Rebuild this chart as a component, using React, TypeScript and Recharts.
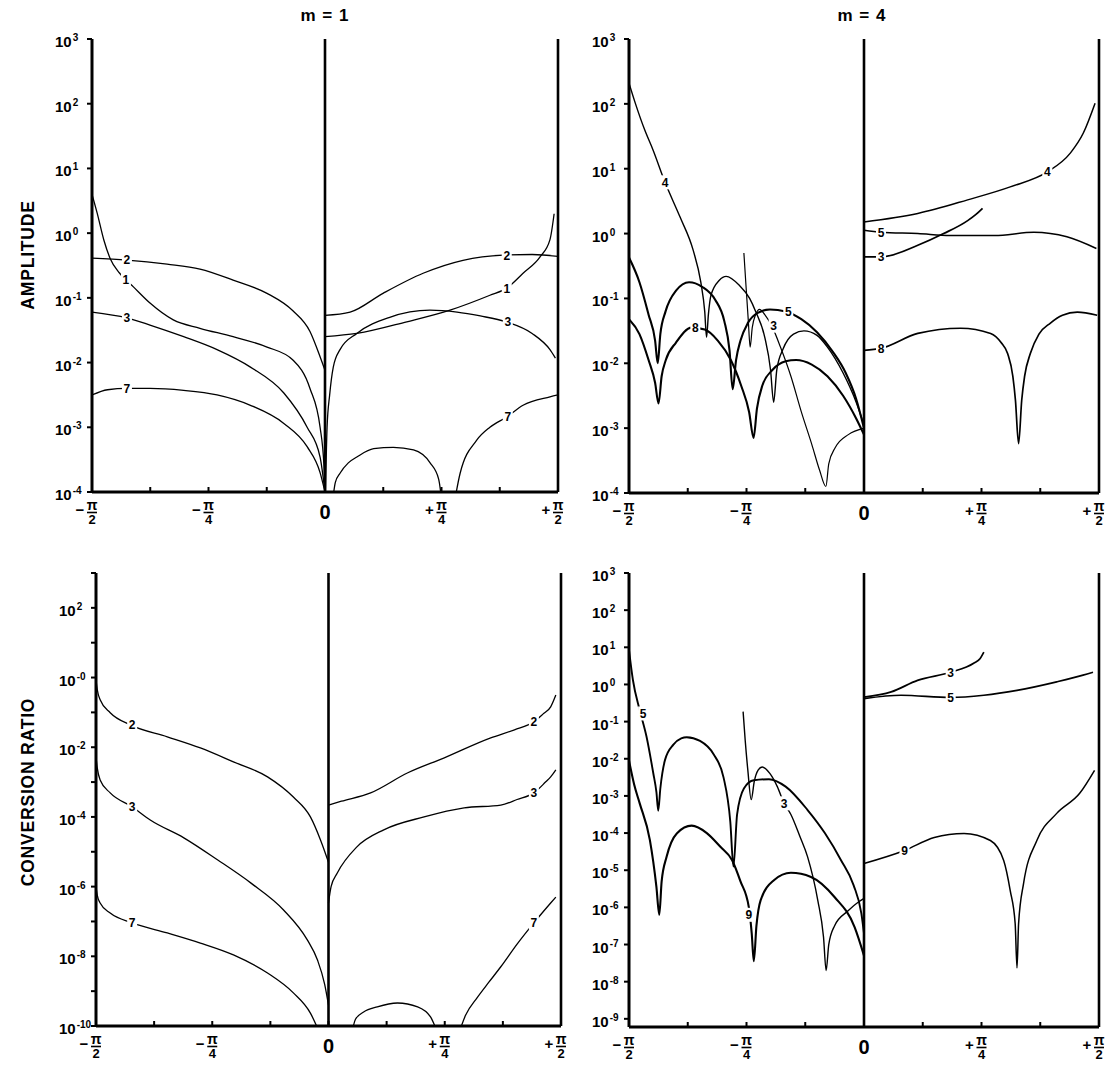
import React from 'react';
import { LineChart, Line, XAxis, YAxis, ReferenceLine, ReferenceDot } from 'recharts';

type Pt = [number, number];
type Tag = [number, number, string];

// x = angle of incidence in degrees (-90 = -pi/2 ... +90 = +pi/2)
// y = log10 of the plotted quantity (axes are logarithmic)
const X_TICKS = [-90, -67.5, -45, -22.5, 0, 22.5, 45, 67.5, 90];
const AMP_TICKS = [3, 2, 1, 0, -1, -2, -3, -4];
const CONV_M1_TICKS = [3, 2, 1, 0, -1, -2, -3, -4, -5, -6, -7, -8, -9, -10];
const CONV_M1_LABELS = [2, 0, -2, -4, -6, -8, -10];
const CONV_M4_TICKS = [3, 2, 1, 0, -1, -2, -3, -4, -5, -6, -7, -8, -9];

// ---------- AMPLITUDE, m = 1 ----------
const AMP_M1_O1_NEG: Pt[] = [[-90, 0.6], [-88, 0.31], [-85.4, -0.11], [-83, -0.39], [-79.3, -0.62], [-74, -0.83], [-67.6, -1.08], [-58.6, -1.34], [-48.3, -1.47], [-35.5, -1.6], [-22.4, -1.76], [-12.4, -1.96], [-5.8, -2.4], [-1.9, -3.0], [-0.4, -3.6], [0, -4]];
const AMP_M1_O2_NEG: Pt[] = [[-90, -0.385], [-76.5, -0.416], [-61, -0.48], [-48.3, -0.555], [-35.5, -0.725], [-22.4, -0.93], [-12.4, -1.2], [-5.8, -1.52], [-1.9, -1.91], [0, -2.12]];
const AMP_M1_O3_NEG: Pt[] = [[-90, -1.22], [-76.5, -1.31], [-67.6, -1.42], [-54.6, -1.6], [-41.7, -1.8], [-28.8, -2.07], [-15.9, -2.47], [-6.9, -3.0], [-1.9, -3.46], [0, -4]];
const AMP_M1_O7_NEG: Pt[] = [[-90, -2.5], [-84, -2.42], [-76.5, -2.4], [-67.6, -2.4], [-54.6, -2.43], [-41.7, -2.5], [-28.8, -2.66], [-15.9, -2.94], [-6.9, -3.3], [-1.9, -3.7], [0, -4]];
const AMP_M1_O1_POS: Pt[] = [[0, -1.6], [12.3, -1.55], [31.6, -1.37], [48.3, -1.19], [63.7, -0.96], [70.2, -0.85], [76.5, -0.62], [83, -0.37], [86.9, -0.1], [88.5, 0.3]];
const AMP_M1_O2_POS: Pt[] = [[0, -1.27], [9.7, -1.22], [22.4, -0.93], [37.9, -0.62], [53.3, -0.42], [68.8, -0.34], [80, -0.33], [90, -0.36]];
const AMP_M1_O3_POS: Pt[] = [[0.2, -4], [0.8, -3.0], [1.8, -2.5], [3.2, -2.07], [5.8, -1.8], [12.3, -1.55], [25, -1.3], [40.5, -1.19], [51, -1.22], [60, -1.28], [70, -1.37], [80, -1.55], [86.9, -1.8], [89, -1.93]];
const AMP_M1_O7_POS_A: Pt[] = [[2.5, -4.3], [4, -3.85], [5.8, -3.71], [9, -3.55], [12.3, -3.46], [18.8, -3.33], [26.4, -3.31], [34.2, -3.35], [40.6, -3.55], [43.9, -3.8], [45.5, -4.3]];
const AMP_M1_O7_POS_B: Pt[] = [[49.4, -4.3], [52.2, -3.71], [58.6, -3.2], [63.7, -3.0], [70.2, -2.84], [76.5, -2.66], [86.9, -2.53], [90, -2.5]];
const AMP_M1_TAGS: Tag[] = [[-76.5, -0.41, '2'], [-76.9, -0.72, '1'], [-76.5, -1.31, '3'], [-76.5, -2.4, '7'], [70.2, -0.34, '2'], [70.2, -0.86, '1'], [70.6, -1.37, '3'], [70.6, -2.84, '7']];

// ---------- AMPLITUDE, m = 4 ----------
const AMP_M4_O4_NEG: Pt[] = [[-90, 2.32], [-87.5, 2.0], [-84, 1.6], [-80.8, 1.29], [-76.2, 0.79], [-70.4, 0.25], [-65.4, -0.26], [-62.5, -0.75], [-61, -1.2], [-60.3, -1.6], [-59.6, -1.25], [-58.6, -0.95], [-55.4, -0.72], [-52.8, -0.66], [-47.7, -0.8], [-43.8, -1.0], [-41.5, -1.2], [-38, -1.6], [-35.8, -2.1], [-34.6, -2.6], [-33.4, -2.1], [-31, -1.78], [-27, -1.55], [-23, -1.5], [-18, -1.57], [-14, -1.75], [-8, -2.15], [-3, -2.6], [0, -2.95]];
const AMP_M4_O5_NEG: Pt[] = [[-90, -0.37], [-86, -0.75], [-82.5, -1.25], [-80, -1.65], [-79, -2.0], [-78, -1.55], [-76, -1.2], [-72, -0.88], [-67, -0.75], [-62, -0.82], [-57, -1.02], [-53.5, -1.35], [-51.5, -1.8], [-50.3, -2.4], [-49, -1.95], [-47.3, -1.65], [-44.5, -1.38], [-40.5, -1.22], [-36, -1.17], [-30, -1.2], [-24, -1.32], [-18, -1.52], [-12, -1.82], [-7, -2.15], [-3, -2.55], [0, -3.0]];
const AMP_M4_O8_NEG: Pt[] = [[-90, -1.32], [-86, -1.55], [-82.5, -1.95], [-80, -2.3], [-78.7, -2.62], [-77.5, -2.2], [-75.9, -1.95], [-72, -1.68], [-66, -1.45], [-61, -1.48], [-56, -1.65], [-51, -1.95], [-47, -2.35], [-44, -2.75], [-42.3, -3.15], [-41, -2.7], [-39, -2.35], [-35, -2.1], [-30, -1.97], [-26, -1.95], [-20, -2.02], [-14, -2.2], [-8, -2.5], [-3, -2.85], [0, -3.1]];
const AMP_M4_O3_NEG: Pt[] = [[-46, -0.3], [-45.2, -0.8], [-44.3, -1.35], [-43.6, -1.75], [-42.8, -1.45], [-41.5, -1.25], [-40, -1.17], [-38, -1.25], [-35, -1.45], [-32, -1.75], [-28, -2.2], [-24, -2.75], [-20, -3.25], [-17, -3.65], [-14.6, -3.9], [-13.5, -3.55], [-11, -3.3], [-6, -3.1], [0, -3.0]];
const AMP_M4_O4_POS: Pt[] = [[0, 0.18], [20.6, 0.31], [39.7, 0.52], [56, 0.72], [70.2, 0.95], [79, 1.24], [84, 1.55], [88.5, 2.01]];
const AMP_M4_O3_POS: Pt[] = [[0, -0.36], [6.5, -0.36], [20.6, -0.18], [30.5, 0.0], [39.7, 0.2], [43, 0.3], [45.4, 0.39]];
const AMP_M4_O5_POS: Pt[] = [[0, 0.05], [6.5, 0.02], [20.6, 0.0], [33, -0.03], [50, -0.03], [65, 0.02], [77.7, -0.05], [89, -0.23]];
const AMP_M4_O8_POS: Pt[] = [[0, -1.8], [6.5, -1.77], [20.6, -1.54], [37, -1.46], [48.5, -1.54], [52.5, -1.68], [55, -1.85], [57, -2.2], [58, -2.57], [59.2, -3.24], [60.4, -2.57], [61.5, -2.2], [63.7, -1.85], [67, -1.55], [71.4, -1.38], [76, -1.26], [81.7, -1.21], [89.3, -1.26]];
const AMP_M4_TAGS: Tag[] = [[-76.2, 0.79, '4'], [-64.6, -1.45, '8'], [-34.6, -1.42, '3'], [-29, -1.2, '5'], [70.2, 0.95, '4'], [6.5, 0.02, '5'], [6.5, -0.36, '3'], [6.5, -1.77, '8']];

// ---------- CONVERSION RATIO, m = 1 ----------
const CONV_M1_O2_NEG: Pt[] = [[-90, -0.07], [-89.5, -0.35], [-88.4, -0.64], [-84.5, -1.01], [-76.7, -1.36], [-62.4, -1.7], [-49.6, -2.02], [-36.8, -2.42], [-23.6, -2.85], [-13.6, -3.43], [-7, -4.0], [-3.1, -4.66], [0, -5.3]];
const CONV_M1_O3_NEG: Pt[] = [[-90, -2.28], [-89.5, -2.6], [-88.4, -2.94], [-84.5, -3.31], [-76, -3.71], [-69, -4.09], [-56, -4.6], [-43, -5.23], [-30, -5.9], [-17.4, -6.67], [-8.2, -7.53], [-4.3, -8.1], [-1.5, -8.8], [0, -9.4]];
const CONV_M1_O7_NEG: Pt[] = [[-90, -6.0], [-89.5, -6.25], [-88.4, -6.47], [-84.5, -6.76], [-76, -7.04], [-62.4, -7.33], [-49.6, -7.62], [-36.8, -7.96], [-23.6, -8.48], [-13.6, -9.05], [-7, -9.63], [-4, -10.1]];
const CONV_M1_O2_POS: Pt[] = [[0, -3.66], [5, -3.55], [16.3, -3.31], [30.5, -2.74], [44.6, -2.31], [62.8, -1.73], [72, -1.5], [79.5, -1.27], [83, -1.05], [86, -0.84], [88, -0.5]];
const CONV_M1_O3_POS: Pt[] = [[0, -6.47], [1, -6.0], [3.4, -5.61], [11, -4.86], [21.4, -4.37], [37, -4.0], [52.5, -3.74], [66.7, -3.66], [73, -3.5], [79.5, -3.31], [84, -3.0], [86, -2.85], [88, -2.65]];
const CONV_M1_O7_POS_A: Pt[] = [[9, -10.2], [10.5, -9.8], [13.6, -9.6], [18.9, -9.45], [26.7, -9.34], [34.5, -9.45], [39.5, -9.74], [42.2, -10.2]];
const CONV_M1_O7_POS_B: Pt[] = [[50.5, -10.2], [53, -9.7], [57.7, -9.17], [62, -8.75], [66.7, -8.3], [73, -7.65], [79.5, -7.04], [86, -6.47], [88, -6.3]];
const CONV_M1_TAGS: Tag[] = [[-76, -1.36, '2'], [-76, -3.71, '3'], [-76, -7.04, '7'], [79.5, -1.27, '2'], [79.5, -3.31, '3'], [79.5, -7.04, '7']];

// ---------- CONVERSION RATIO, m = 4 ----------
const CONV_M4_O5_NEG: Pt[] = [[-90, 0.93], [-88.5, 0.12], [-85.9, -0.69], [-83.3, -1.4], [-80.7, -2.39], [-79.5, -2.9], [-78.8, -3.4], [-78, -2.8], [-76.2, -2.03], [-73, -1.62], [-70, -1.45], [-67.9, -1.42], [-62.8, -1.52], [-57.6, -1.88], [-53.8, -2.5], [-51.2, -3.7], [-50, -4.9], [-48.6, -3.5], [-46, -2.8], [-42.2, -2.58], [-36.4, -2.55], [-30, -2.75], [-21.6, -3.38], [-15, -4.0], [-8.8, -4.73], [-4, -5.4], [-1, -6.17], [0, -6.7]];
const CONV_M4_O9_NEG: Pt[] = [[-90, -2.05], [-88, -2.7], [-85.9, -3.2], [-82, -4.19], [-79.5, -5.45], [-78.4, -6.2], [-77.5, -5.3], [-75.6, -4.64], [-71.7, -4.01], [-66, -3.8], [-60.2, -4.0], [-55, -4.37], [-50.5, -4.73], [-47.3, -5.3], [-44.1, -6.0], [-43, -6.7], [-42.2, -7.45], [-41.2, -6.5], [-39.6, -5.81], [-34.5, -5.27], [-28, -5.07], [-20.3, -5.18], [-11.3, -5.72], [-3.6, -6.53], [0, -7.3]];
const CONV_M4_O3_NEG: Pt[] = [[-46.3, -0.73], [-45.5, -1.5], [-44.5, -2.3], [-43.2, -3.1], [-42, -2.6], [-40.5, -2.3], [-39, -2.22], [-36, -2.4], [-33.2, -2.75], [-30.6, -3.2], [-28, -3.5], [-24.5, -4.1], [-21.6, -4.64], [-17.7, -5.81], [-15.5, -6.8], [-14.5, -7.7], [-13.5, -7.0], [-11.3, -6.5], [-6.2, -6.1], [-2, -5.85], [0, -5.76]];
const CONV_M4_O3_POS: Pt[] = [[0, -0.34], [10.4, -0.2], [20.5, 0.11], [33.2, 0.33], [42, 0.57], [44.5, 0.7], [45.9, 0.87]];
const CONV_M4_O5_POS: Pt[] = [[0, -0.38], [14.2, -0.29], [33.2, -0.35], [45.9, -0.29], [58.6, -0.16], [73.8, 0.07], [83.9, 0.25], [87.7, 0.33]];
const CONV_M4_O9_POS: Pt[] = [[0, -4.82], [15.5, -4.47], [26.9, -4.12], [38.3, -4.01], [48.4, -4.2], [53.5, -4.74], [56, -5.55], [57.9, -6.44], [58.6, -7.63], [59.2, -6.44], [61.1, -5.36], [66.2, -4.2], [73.8, -3.47], [82.6, -2.93], [88.3, -2.31]];
const CONV_M4_TAGS: Tag[] = [[-84.6, -0.78, '5'], [-30.6, -3.2, '3'], [-44.1, -6.2, '9'], [33.2, 0.33, '3'], [33.2, -0.35, '5'], [15.5, -4.47, '9']];

const FONT = '"Liberation Sans", Arial, Helvetica, sans-serif';

const toRows = (pts: Pt[]) => pts.map(([x, y]) => ({ x, y }));

function XTick(props: any) {
  const { x, y, payload } = props;
  const v = payload.value as number;
  const mark = <line x1={x} x2={x} y1={y - 1} y2={y - 5} stroke="#000" strokeWidth={2} />;
  if (v === 0) {
    return (
      <g>
        {mark}
        <text x={x} y={y + 27} textAnchor="middle" fontFamily={FONT} fontWeight={700} fontSize={20} fill="#000">0</text>
      </g>
    );
  }
  if (Math.abs(v) === 90 || Math.abs(v) === 45) {
    const sign = v < 0 ? '\u2212' : '+';
    const den = Math.abs(v) === 90 ? '2' : '4';
    return (
      <g>
        {mark}
        <text x={x - 12} y={y + 23} textAnchor="middle" fontFamily={FONT} fontWeight={700} fontSize={15} fill="#000">{sign}</text>
        <text x={x} y={y + 18} textAnchor="middle" fontFamily={FONT} fontWeight={700} fontSize={14} fill="#000">{'\u03C0'}</text>
        <line x1={x - 5} x2={x + 5} y1={y + 20.5} y2={y + 20.5} stroke="#000" strokeWidth={1.6} />
        <text x={x} y={y + 32} textAnchor="middle" fontFamily={FONT} fontWeight={700} fontSize={13} fill="#000">{den}</text>
      </g>
    );
  }
  return <g>{mark}</g>;
}

function YTick(props: any) {
  const { x, y, payload, labels, minusZero } = props;
  const v = payload.value as number;
  const show = !labels || labels.includes(v);
  const exp = v === 0 ? (minusZero ? '-0' : '0') : v < 0 ? '-' + Math.abs(v) : String(v);
  return (
    <g>
      <line x1={x - 5} x2={x} y1={y} y2={y} stroke="#000" strokeWidth={2} />
      {show && (
        <text x={x - 37} y={y + 8} fontFamily={FONT} fontWeight={700} fontSize={15} fill="#000">
          <tspan>10</tspan>
          <tspan dy={-6} dx={1} fontSize={10}>{exp}</tspan>
        </text>
      )}
    </g>
  );
}

function CurveTag(props: any) {
  const { cx, cy, text } = props;
  if (cx == null || cy == null) return null;
  return (
    <g>
      <rect x={cx - 5} y={cy - 7} width={10} height={14} fill="#fff" />
      <text x={cx} y={cy + 4.5} textAnchor="middle" fontFamily={FONT} fontWeight={700} fontSize={12} fill="#000">{text}</text>
    </g>
  );
}

type Series = { pts: Pt[]; w: number };

type PanelProps = {
  left: number; top: number; width: number; height: number;
  marginTop: number; marginRight: number; yAxisWidth: number;
  yDomain: [number, number]; yTicks: number[]; yLabels?: number[]; minusZero?: boolean;
  series: Series[]; tags: Tag[];
};

function Panel(p: PanelProps) {
  return (
    <div style={{ position: 'absolute', left: p.left, top: p.top }}>
      <LineChart width={p.width} height={p.height} margin={{ top: p.marginTop, right: p.marginRight, bottom: 0, left: 0 }}>
        <XAxis
          dataKey="x" type="number" domain={[-90, 90]} ticks={X_TICKS} interval={0} allowDataOverflow
          height={40} tickLine={false} tickSize={0} tickMargin={0}
          axisLine={{ stroke: '#000', strokeWidth: 3 }}
          tick={(tp: any) => <XTick {...tp} />}
        />
        <YAxis
          type="number" domain={p.yDomain} ticks={p.yTicks} interval={0} allowDataOverflow
          width={p.yAxisWidth} tickLine={false} tickSize={0} tickMargin={0}
          axisLine={{ stroke: '#000', strokeWidth: 3 }}
          tick={(tp: any) => <YTick {...tp} labels={p.yLabels} minusZero={p.minusZero} />}
        />
        <ReferenceLine x={0} stroke="#000" strokeWidth={2.6} ifOverflow="visible" />
        <ReferenceLine x={90} stroke="#000" strokeWidth={2.6} ifOverflow="visible" />
        {p.series.map((s, i) => (
          <Line
            key={'s' + i}
            data={toRows(s.pts)}
            dataKey="y"
            type="monotone"
            stroke="#000"
            strokeWidth={s.w}
            dot={false}
            activeDot={false}
            isAnimationActive={false}
          />
        ))}
        {p.tags.map((t, i) => (
          <ReferenceDot
            key={'t' + i}
            x={t[0]}
            y={t[1]}
            r={3}
            ifOverflow="visible"
            shape={(sp: any) => <CurveTag {...sp} text={t[2]} />}
          />
        ))}
      </LineChart>
    </div>
  );
}

export default function App() {
  return (
    <div style={{ position: 'absolute', left: 0, top: 0, width: 1105, height: 1076, background: '#fff', overflow: 'hidden' }}>
      <Panel
        left={0} top={0} width={568} height={532} marginTop={39} marginRight={10} yAxisWidth={92}
        yDomain={[-4, 3]} yTicks={AMP_TICKS}
        series={[
          { pts: AMP_M1_O1_NEG, w: 1.3 }, { pts: AMP_M1_O2_NEG, w: 1.3 }, { pts: AMP_M1_O3_NEG, w: 1.3 }, { pts: AMP_M1_O7_NEG, w: 1.3 },
          { pts: AMP_M1_O1_POS, w: 1.3 }, { pts: AMP_M1_O2_POS, w: 1.3 }, { pts: AMP_M1_O3_POS, w: 1.3 },
          { pts: AMP_M1_O7_POS_A, w: 1.3 }, { pts: AMP_M1_O7_POS_B, w: 1.3 },
        ]}
        tags={AMP_M1_TAGS}
      />
      <Panel
        left={568} top={0} width={537} height={533} marginTop={39} marginRight={6} yAxisWidth={61}
        yDomain={[-4, 3]} yTicks={AMP_TICKS}
        series={[
          { pts: AMP_M4_O4_NEG, w: 1.4 }, { pts: AMP_M4_O5_NEG, w: 2.1 }, { pts: AMP_M4_O8_NEG, w: 2.1 }, { pts: AMP_M4_O3_NEG, w: 1.2 },
          { pts: AMP_M4_O4_POS, w: 1.5 }, { pts: AMP_M4_O3_POS, w: 1.7 }, { pts: AMP_M4_O5_POS, w: 1.5 }, { pts: AMP_M4_O8_POS, w: 1.7 },
        ]}
        tags={AMP_M4_TAGS}
      />
      <Panel
        left={0} top={540} width={568} height={526} marginTop={33} marginRight={7} yAxisWidth={96}
        yDomain={[-10, 3]} yTicks={CONV_M1_TICKS} yLabels={CONV_M1_LABELS} minusZero
        series={[
          { pts: CONV_M1_O2_NEG, w: 1.3 }, { pts: CONV_M1_O3_NEG, w: 1.3 }, { pts: CONV_M1_O7_NEG, w: 1.3 },
          { pts: CONV_M1_O2_POS, w: 1.3 }, { pts: CONV_M1_O3_POS, w: 1.3 },
          { pts: CONV_M1_O7_POS_A, w: 1.3 }, { pts: CONV_M1_O7_POS_B, w: 1.3 },
        ]}
        tags={CONV_M1_TAGS}
      />
      <Panel
        left={568} top={540} width={537} height={527} marginTop={33} marginRight={6} yAxisWidth={61}
        yDomain={[-9.22, 3]} yTicks={CONV_M4_TICKS}
        series={[
          { pts: CONV_M4_O5_NEG, w: 1.9 }, { pts: CONV_M4_O9_NEG, w: 2.1 }, { pts: CONV_M4_O3_NEG, w: 1.4 },
          { pts: CONV_M4_O3_POS, w: 1.7 }, { pts: CONV_M4_O5_POS, w: 1.7 }, { pts: CONV_M4_O9_POS, w: 1.5 },
        ]}
        tags={CONV_M4_TAGS}
      />
      <svg width={1105} height={1076} style={{ position: 'absolute', left: 0, top: 0, pointerEvents: 'none' }}>
        <text x={325} y={21} textAnchor="middle" fontFamily={FONT} fontWeight={700} fontSize={17} letterSpacing={1} fill="#000">m = 1</text>
        <text x={862} y={21} textAnchor="middle" fontFamily={FONT} fontWeight={700} fontSize={17} letterSpacing={1} fill="#000">m = 4</text>
        <text transform="translate(34,255) rotate(-90)" x={0} y={0} textAnchor="middle" fontFamily={FONT} fontWeight={700} fontSize={17.5} letterSpacing={0.8} fill="#000">AMPLITUDE</text>
        <text transform="translate(34,792) rotate(-90)" x={0} y={0} textAnchor="middle" fontFamily={FONT} fontWeight={700} fontSize={17.5} letterSpacing={0.8} fill="#000">CONVERSION RATIO</text>
      </svg>
    </div>
  );
}
